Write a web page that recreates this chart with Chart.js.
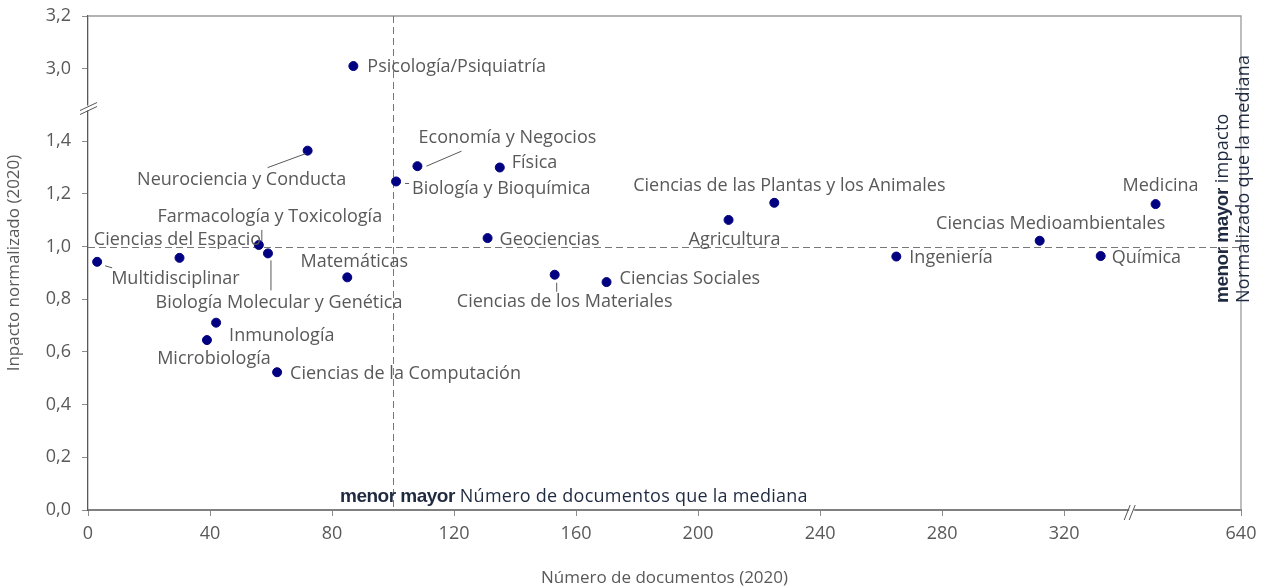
<!DOCTYPE html>
<html>
<head>
<meta charset="utf-8">
<script src="https://cdn.jsdelivr.net/npm/chart.js@4/dist/chart.umd.min.js"></script>
<style>
  html, body { margin: 0; padding: 0; background: #fff; }
  #wrap { width: 1271px; height: 588px; position: relative; }
</style>
</head>
<body>
<div id="wrap"><canvas id="scatter"></canvas></div>
<script>
// data
var categories = ['Psicología/Psiquiatría', 'Neurociencia y Conducta', 'Economía y Negocios', 'Física',
    'Biología y Bioquímica', 'Ciencias de las Plantas y los Animales', 'Medicina', 'Agricultura',
    'Ciencias Medioambientales', 'Geociencias', 'Ciencias del Espacio', 'Multidisciplinar',
    'Farmacología y Toxicología', 'Biología Molecular y Genética', 'Matemáticas', 'Inmunología',
    'Microbiología', 'Ciencias de la Computación', 'Ciencias de los Materiales', 'Ciencias Sociales',
    'Ingeniería', 'Química'];
var documentos = [87, 72, 108, 135, 101, 225, 612, 210, 312, 131, 30, 3, 56, 59, 85, 42, 39, 62, 153, 170, 265, 332];
var impacto = [3.01, 1.364, 1.305, 1.30, 1.247, 1.166, 1.161, 1.101, 1.022, 1.032, 0.957, 0.942,
    1.006, 0.974, 0.883, 0.711, 0.645, 0.523, 0.893, 0.865, 0.962, 0.964];
var xTicks = [0, 40, 80, 120, 160, 200, 240, 280, 320, 640];
var yTicks = [0, 0.2, 0.4, 0.6, 0.8, 1.0, 1.2, 1.4, 3.0, 3.2];
var medianDocs = 100;
var medianImpact = 1.0;

// axis breaks: [last value before the gap, first value after it]
var axisBreaks = { x: [342, 604], y: [1.52, 2.845] };

// where each label sits relative to its point
var labelPlace = [
    { dx: 14, dy: 1, align: 'left' },
    { dx: -66, dy: 29, align: 'center' },
    { dx: 90, dy: -28, align: 'center' },
    { dx: 12, dy: -5, align: 'left' },
    { dx: 16, dy: 7, align: 'left' },
    { dx: 15, dy: -17, align: 'center' },
    { dx: 5, dy: -18, align: 'center' },
    { dx: 6, dy: 20, align: 'center' },
    { dx: 11, dy: -17, align: 'center' },
    { dx: 12, dy: 2, align: 'left' },
    { dx: -2, dy: -18, align: 'center' },
    { dx: 14, dy: 17, align: 'left' },
    { dx: 11, dy: -28, align: 'center' },
    { dx: 11, dy: 49, align: 'center' },
    { dx: 7, dy: -15, align: 'center' },
    { dx: 13, dy: 13, align: 'left' },
    { dx: 7, dy: 19, align: 'center' },
    { dx: 13, dy: 2, align: 'left' },
    { dx: 10, dy: 27, align: 'center' },
    { dx: 13, dy: -3, align: 'left' },
    { dx: 13, dy: 1, align: 'left' },
    { dx: 11, dy: 2, align: 'left' }
];
// leader lines, offsets from the point: [x1, y1, x2, y2]
var leaders = {
    1: [-2, 3, -40, 17],
    2: [9, 0, 44, -15],
    4: [9, 2, 13, 2],
    11: [8, 4, 15, 6],
    12: [3, -15, 3, -3],
    13: [3, 7, 3, 37],
    18: [2, 8, 2, 17]
};

var labelFont = '18px "Open Sans"';
var textGrey = '#595959';

/* linear scale with a squeezed gap */
class BrokenLinearScale extends Chart.LinearScale {
    squeeze(v) {
        var b = axisBreaks[this.axis];
        if (v <= b[0]) return v;
        if (v >= b[1]) return v - (b[1] - b[0]);
        return b[0];
    }
    unsqueeze(v) {
        var b = axisBreaks[this.axis];
        return v <= b[0] ? v : v + (b[1] - b[0]);
    }
    getPixelForValue(value) {
        if (value === null || value === undefined) return NaN;
        var s = this.squeeze(this.min), e = this.squeeze(this.max);
        return this.getPixelForDecimal((this.squeeze(value) - s) / (e - s));
    }
    getValueForPixel(pixel) {
        var s = this.squeeze(this.min), e = this.squeeze(this.max);
        return this.unsqueeze(s + this.getDecimalForPixel(pixel) * (e - s));
    }
}
BrokenLinearScale.id = 'brokenLinear';
BrokenLinearScale.defaults = Chart.LinearScale.defaults;
Chart.register(BrokenLinearScale);

var points = documentos.map(function (d, i) {
    return { x: d, y: impacto[i] };
});

var framePlugin = {
    id: 'frame',
    beforeDatasetsDraw: function (chart) {
        var ctx = chart.ctx, a = chart.chartArea;
        var xs = chart.scales.x, ys = chart.scales.y;
        ctx.save();
        // top and right frame
        ctx.strokeStyle = '#9a9a9a';
        ctx.lineWidth = 1.3;
        ctx.beginPath();
        ctx.moveTo(a.left, a.top);
        ctx.lineTo(a.right, a.top);
        ctx.lineTo(a.right, a.bottom);
        ctx.stroke();
        // median lines
        ctx.strokeStyle = '#777';
        ctx.lineWidth = 1;
        ctx.setLineDash([7, 4]);
        var mx = Math.round(xs.getPixelForValue(medianDocs)) + 0.5;
        var my = Math.round(ys.getPixelForValue(medianImpact)) + 0.5;
        ctx.beginPath();
        ctx.moveTo(mx, a.top);
        ctx.lineTo(mx, a.bottom);
        ctx.moveTo(a.left, my);
        ctx.lineTo(a.right, my);
        ctx.stroke();
        ctx.setLineDash([]);

        // quadrant notes
        ctx.textBaseline = 'alphabetic';
        ctx.textAlign = 'left';
        ctx.fillStyle = '#1f2a40';
        ctx.font = 'bold 19px "Liberation Sans"';
        ctx.letterSpacing = '-0.5px';
        var bx = 340, by = 502;
        ctx.fillText('menor mayor', bx, by);
        var bw = ctx.measureText('menor mayor').width;
        ctx.font = '18px "Open Sans"';
        ctx.letterSpacing = '0.25px';
        ctx.fillText(' Número de documentos que la mediana', bx + bw, by);

        ctx.save();
        ctx.translate(1228, 303);
        ctx.rotate(-Math.PI / 2);
        ctx.font = 'bold 19px "Liberation Sans"';
        ctx.letterSpacing = '-0.5px';
        ctx.fillText('menor mayor', 0, 0);
        bw = ctx.measureText('menor mayor').width;
        ctx.font = '18px "Open Sans"';
        ctx.letterSpacing = '0.25px';
        ctx.fillText(' impacto', bw, 0);
        ctx.fillText('Normalizado que la mediana', 0, 21);
        ctx.letterSpacing = '0px';
        ctx.restore();
        ctx.restore();
    },
    afterDatasetsDraw: function (chart) {
        var ctx = chart.ctx;
        var meta = chart.getDatasetMeta(0);
        ctx.save();
        ctx.strokeStyle = textGrey;
        ctx.lineWidth = 1;
        Object.keys(leaders).forEach(function (k) {
            var p = meta.data[k], l = leaders[k];
            ctx.beginPath();
            ctx.moveTo(p.x + l[0], p.y + l[1]);
            ctx.lineTo(p.x + l[2], p.y + l[3]);
            ctx.stroke();
        });
        ctx.font = labelFont;
        ctx.fillStyle = textGrey;
        ctx.textBaseline = 'middle';
        categories.forEach(function (name, i) {
            var p = meta.data[i], pl = labelPlace[i];
            ctx.textAlign = pl.align;
            ctx.fillText(name, p.x + pl.dx, p.y + pl.dy);
        });
        ctx.restore();
    },
    afterDraw: function (chart) {
        var ctx = chart.ctx, a = chart.chartArea;
        var xs = chart.scales.x, ys = chart.scales.y;
        ctx.save();
        ctx.strokeStyle = '#555';
        ctx.lineWidth = 1;
        // y axis break
        var yb = ys.getPixelForValue(axisBreaks.y[0]);
        ctx.fillStyle = '#fff';
        ctx.fillRect(a.left - 2, yb - 4, 4, 5);
        ctx.beginPath();
        ctx.moveTo(a.left - 8, yb + 5);
        ctx.lineTo(a.left + 9, yb - 3);
        ctx.moveTo(a.left - 8, yb + 1);
        ctx.lineTo(a.left + 9, yb - 7);
        ctx.stroke();
        // x axis break
        var xb = xs.getPixelForValue(axisBreaks.x[0]);
        ctx.fillRect(xb - 2, a.bottom - 2, 5, 4);
        ctx.beginPath();
        ctx.moveTo(xb - 7, a.bottom + 10);
        ctx.lineTo(xb - 1, a.bottom - 5);
        ctx.moveTo(xb - 2, a.bottom + 10);
        ctx.lineTo(xb + 4, a.bottom - 5);
        ctx.stroke();
        ctx.restore();
    }
};

Chart.defaults.font.family = '"Open Sans", sans-serif';
Chart.defaults.color = textGrey;

new Chart(document.getElementById('scatter').getContext('2d'), {
    type: 'scatter',
    data: {
        datasets: [{
            label: 'Áreas',
            data: points,
            backgroundColor: '#000080',
            borderColor: '#000080',
            pointRadius: 4.5,
            pointHoverRadius: 4.5
        }]
    },
    options: {
        responsive: true,
        maintainAspectRatio: false,
        animation: false,
        layout: { padding: { top: 16, right: 30, left: 0, bottom: 0 } },
        plugins: {
            legend: { display: false },
            tooltip: { enabled: false }
        },
        scales: {
            x: {
                type: 'brokenLinear',
                min: 0, max: 640,
                afterBuildTicks: function (scale) {
                    scale.ticks = xTicks.map(function (v) { return { value: v }; });
                },
                afterFit: function (scale) { scale.height = 78; },
                grid: { drawOnChartArea: false, tickLength: 6, color: '#8c8c8c' },
                border: { color: '#808080', width: 2 },
                ticks: {
                    padding: 7,
                    font: { size: 18 },
                    color: textGrey,
                    maxRotation: 0,
                    autoSkip: false,
                    callback: function (v) { return String(v); }
                },
                title: {
                    display: true,
                    text: 'Número de documentos (2020)',
                    font: { size: 17 },
                    color: textGrey,
                    padding: { top: 0, bottom: 0 }
                }
            },
            y: {
                type: 'brokenLinear',
                min: 0, max: 3.2,
                afterBuildTicks: function (scale) {
                    scale.ticks = yTicks.map(function (v) { return { value: v }; });
                },
                afterFit: function (scale) {
                    scale.width = 88;
                    scale.paddingTop = 0;
                    scale.paddingBottom = 0;
                },
                grid: { drawOnChartArea: false, tickLength: 6, color: '#8c8c8c' },
                border: { color: '#595959', width: 1.3 },
                ticks: {
                    padding: 11,
                    font: { size: 18 },
                    color: textGrey,
                    autoSkip: false,
                    callback: function (v) { return v.toFixed(1).replace('.', ','); }
                },
                title: {
                    display: true,
                    text: 'Inpacto normalizado (2020)',
                    font: { size: 17 },
                    color: textGrey,
                    padding: { top: 4, bottom: 0 }
                }
            }
        }
    },
    plugins: [framePlugin]
});
</script>
</body>
</html>
